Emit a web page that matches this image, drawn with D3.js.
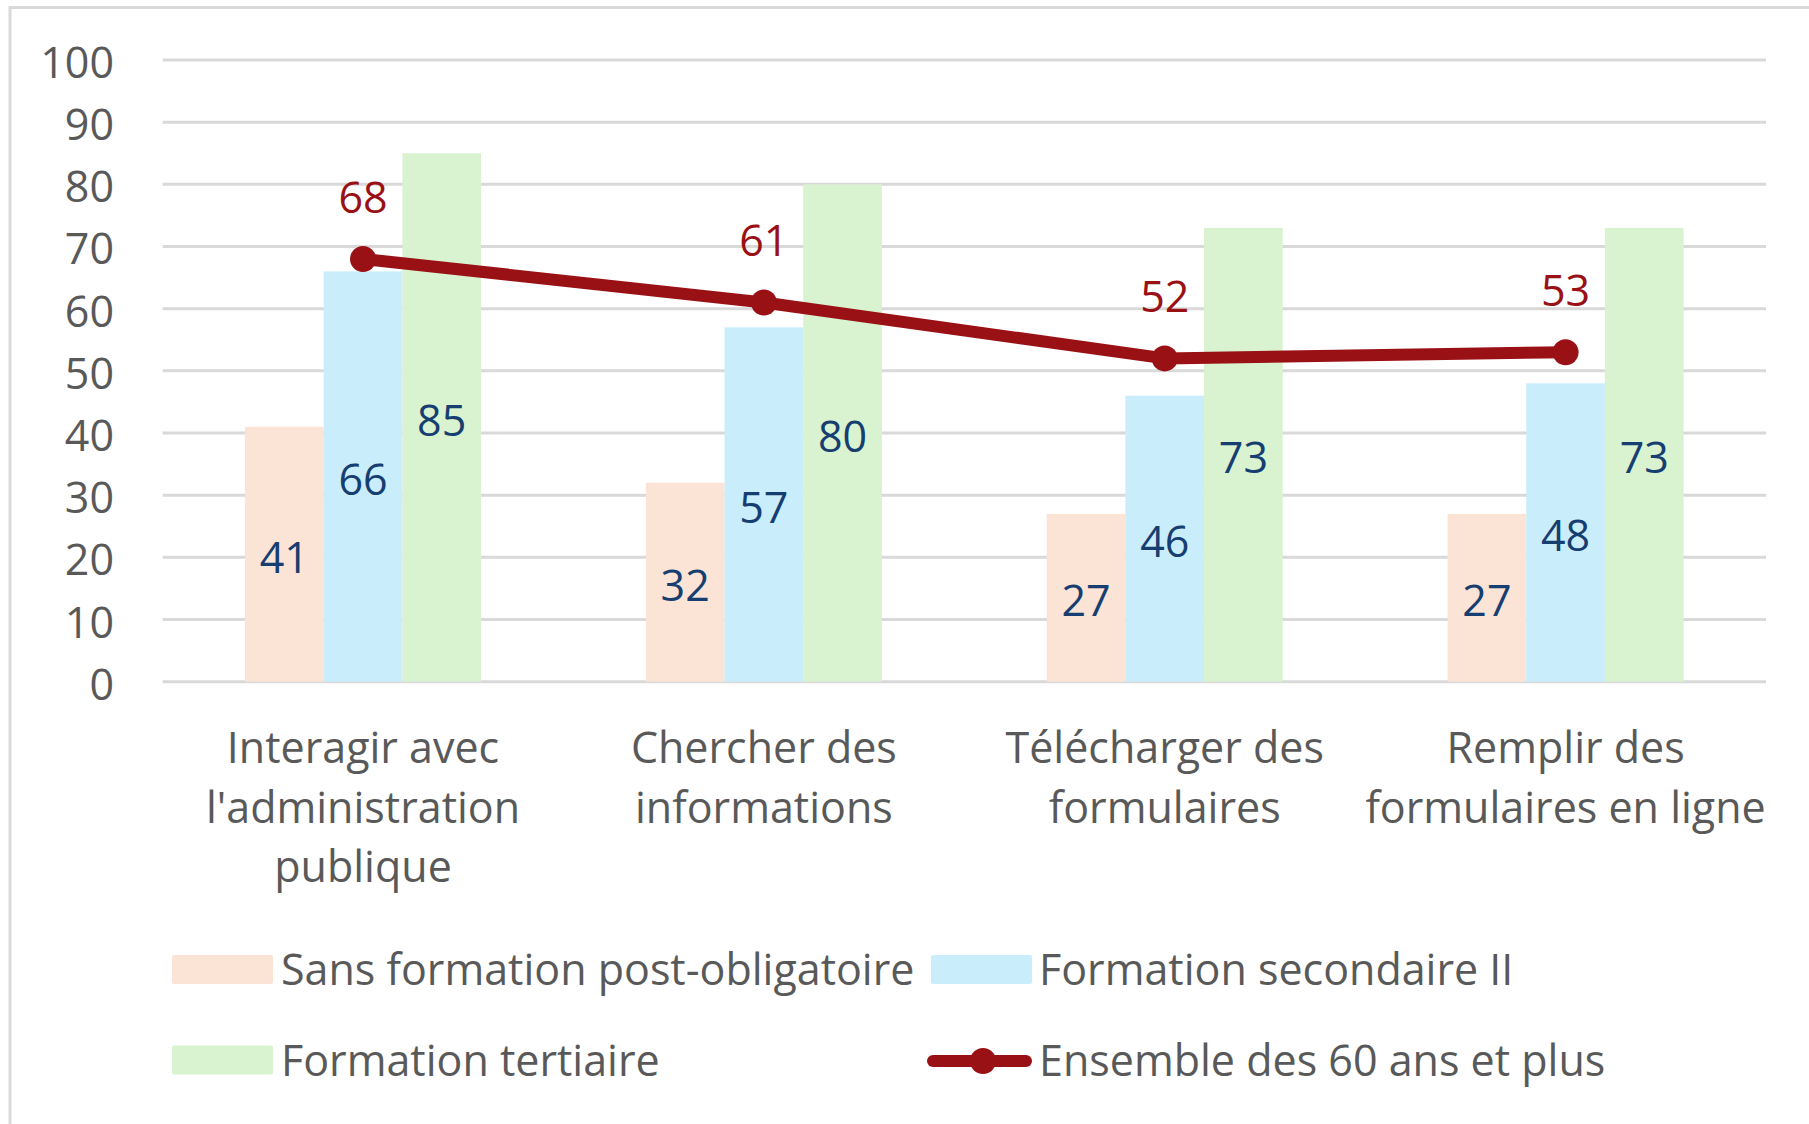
<!DOCTYPE html>
<html>
<head>
<meta charset="utf-8">
<script src="https://cdn.jsdelivr.net/npm/d3@7/dist/d3.min.js"></script>
<style>
  html, body { margin: 0; padding: 0; background: #ffffff; }
  svg { display: block; }
  text { font-family: "Segoe UI", "Open Sans", "Noto Sans", sans-serif; }
</style>
</head>
<body>
<svg id="chart" width="1809" height="1124"></svg>
<script>
// ---- Data ----
const categories = [
  ["Interagir avec", "l'administration", "publique"],
  ["Chercher des", "informations"],
  ["Télécharger des", "formulaires"],
  ["Remplir des", "formulaires en ligne"]
];
const seriesNames = ["Sans formation post-obligatoire", "Formation secondaire II", "Formation tertiaire"];
const sansFormation = [41, 32, 27, 27];
const secondaireII = [66, 57, 46, 48];
const tertiaire = [85, 80, 73, 73];
const ensemble60 = [68, 61, 52, 53];
const lineName = "Ensemble des 60 ans et plus";
const yTicks = [0, 10, 20, 30, 40, 50, 60, 70, 80, 90, 100];

// ---- Styles ----
const barColors = ["#fbe3d6", "#caedfb", "#d9f2d0"];
const lineColor = "#9a1115";
const barLabelColor = "#163e70";
const textColor = "#595959";
const gridColor = "#d9d9d9";
const fontSize = 43;

const svg = d3.select("#chart");
const catKeys = categories.map((c, i) => "c" + i);
const barSeries = [sansFormation, secondaireII, tertiaire];

// outer border
svg.append("rect").attr("x", 10).attr("y", 7.5).attr("width", 1840).attr("height", 1200)
  .attr("fill", "none").attr("stroke", gridColor).attr("stroke-width", 3);

const plotLeft = 162.6, plotRight = 1766, plotTop = 60, plotBottom = 681.7;
const x0 = d3.scaleBand().domain(catKeys).range([plotLeft, plotRight]).padding(0);
const groupW = 236;
const x1 = d3.scaleBand().domain(d3.range(barSeries.length))
  .range([(x0.bandwidth() - groupW) / 2, (x0.bandwidth() + groupW) / 2]).padding(0);
const y = d3.scaleLinear().domain([0, 100]).range([plotBottom, plotTop]);

// gridlines
svg.append("g").selectAll("line").data(yTicks).join("line")
  .attr("x1", plotLeft).attr("x2", plotRight)
  .attr("y1", d => y(d)).attr("y2", d => y(d))
  .attr("stroke", gridColor).attr("stroke-width", 3);

// y axis labels
const yAxis = d3.axisLeft(y).tickValues(yTicks).tickSize(0).tickPadding(0);
const yg = svg.append("g").attr("transform", `translate(114,0)`).call(yAxis);
yg.select(".domain").remove();
yg.selectAll("text").attr("fill", textColor).attr("font-size", fontSize)
  .attr("font-family", '"Segoe UI", "Open Sans", sans-serif')
  .attr("dy", "0.36em").attr("y", 2);

// bars
const barsG = svg.append("g");
barSeries.forEach((vals, si) => {
  barsG.append("g").selectAll("rect").data(vals).join("rect")
    .attr("x", (d, i) => x0(catKeys[i]) + x1(si))
    .attr("width", x1.bandwidth())
    .attr("y", d => y(d))
    .attr("height", d => y(0) - y(d))
    .attr("fill", barColors[si]);
});

// bar labels
barSeries.forEach((vals, si) => {
  svg.append("g").selectAll("text").data(vals).join("text")
    .attr("x", (d, i) => x0(catKeys[i]) + x1(si) + x1.bandwidth() / 2)
    .attr("y", d => (y(d) + y(0)) / 2 + 18.5)
    .attr("text-anchor", "middle")
    .attr("font-size", fontSize)
    .attr("fill", barLabelColor)
    .text(d => d);
});

// line
const cx = i => x0(catKeys[i]) + x0.bandwidth() / 2;
const line = d3.line().x((d, i) => cx(i)).y(d => y(d));
svg.append("path").datum(ensemble60).attr("d", line)
  .attr("fill", "none").attr("stroke", lineColor).attr("stroke-width", 12)
  .attr("stroke-linejoin", "round");
svg.append("g").selectAll("circle").data(ensemble60).join("circle")
  .attr("cx", (d, i) => cx(i)).attr("cy", d => y(d)).attr("r", 13)
  .attr("fill", lineColor);
svg.append("g").selectAll("text").data(ensemble60).join("text")
  .attr("x", (d, i) => cx(i)).attr("y", d => y(d) - 46)
  .attr("text-anchor", "middle").attr("font-size", fontSize)
  .attr("fill", lineColor).text(d => d);

// category labels
const catG = svg.append("g");
categories.forEach((lines, i) => {
  const t = catG.append("text").attr("text-anchor", "middle")
    .attr("font-size", fontSize).attr("fill", textColor);
  lines.forEach((ln, j) => {
    t.append("tspan").attr("x", cx(i)).attr("y", 763 + j * 59.5).text(ln);
  });
});

// legend
const legendItems = [
  { name: seriesNames[0], type: "rect", color: barColors[0], sx: 172, tx: 281, row: 0 },
  { name: seriesNames[1], type: "rect", color: barColors[1], sx: 931, tx: 1039, row: 0 },
  { name: seriesNames[2], type: "rect", color: barColors[2], sx: 172, tx: 281, row: 1 },
  { name: lineName, type: "line", color: lineColor, sx: 927, tx: 1039, row: 1 }
];
const rowBase = [985, 1075.5];
const lg = svg.append("g");
legendItems.forEach(it => {
  const base = rowBase[it.row];
  if (it.type === "rect") {
    lg.append("rect").attr("x", it.sx).attr("y", base - 30).attr("width", 101).attr("height", 29)
      .attr("fill", it.color).attr("rx", 2);
  } else {
    const cy = base - 14.5;
    lg.append("line").attr("x1", it.sx + 6).attr("x2", it.sx + 99).attr("y1", cy).attr("y2", cy)
      .attr("stroke", it.color).attr("stroke-width", 12).attr("stroke-linecap", "round");
    lg.append("circle").attr("cx", it.sx + 56).attr("cy", cy).attr("r", 13).attr("fill", it.color);
  }
  lg.append("text").attr("x", it.tx).attr("y", base).attr("font-size", fontSize)
    .attr("fill", textColor).text(it.name);
});
</script>
</body>
</html>
